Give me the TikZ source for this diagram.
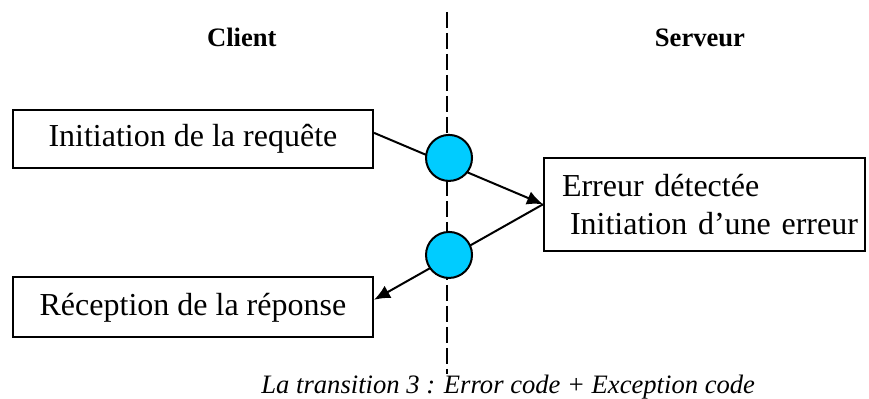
\documentclass[tikz,border=0pt]{standalone}
\usepackage{fontspec}
\setmainfont{Liberation Serif}
\usetikzlibrary{arrows.meta}
\definecolor{bleu}{RGB}{0,204,255}
\tikzstyle{box} = [draw, line width=1pt, minimum width=6.33cm, minimum height=1.03cm, inner sep=0pt, font=\fontsize{16}{19}\selectfont]
\tikzstyle{bulle} = [circle, draw, line width=1pt, fill=bleu, minimum size=23pt, inner sep=0pt]
\tikzstyle{titre} = [anchor=base, font=\fontsize{13.3}{16}\selectfont\bfseries]
\tikzstyle{fleche} = [line width=1pt, -{Latex[length=8pt,width=7pt]}]

\begin{document}
\begin{tikzpicture}
%\draw[step=0.5cm, very thin,black!20] (0,0) grid (15.27,7.01);
\useasboundingbox (0,0) rectangle (15.27,7.01);
\draw (4.25,6.19) node[titre] (client) {Client};
\draw (12.30,6.19) node[titre] (serveur) {Serveur};
\coordinate (haut) at (7.855,6.80);
\coordinate (bas) at (7.855,0.44);
\draw[line width=1pt, dash pattern=on 8pt off 2.5pt] (haut)--(bas);
\node[box] (req) at (3.39,4.57) {Initiation de la requête};
\node[box, minimum height=1.05cm] (rep) at (3.39,1.61) {Réception de la réponse};
\node[box, minimum width=0pt, align=left, text width=142.5pt, inner xsep=9pt, minimum height=1.64cm] (err) at (12.38,3.42) {Erreur détectée\\ \hspace*{4pt}\mbox{Initiation d’une erreur}};
\draw[fleche] ([yshift=3pt]req.east)--(err.west);
\draw[fleche] (err.west)--([yshift=3.75pt]rep.east);
\node[bulle] (b1) at (7.89,4.235) {};
\node[bulle] (b2) at (7.89,2.53) {};
\draw (8.93,0.09) node[anchor=base, font=\fontsize{13.3}{16}\selectfont\itshape] (legende) {La transition 3 : Error code + Exception code};
\end{tikzpicture}
\end{document}
